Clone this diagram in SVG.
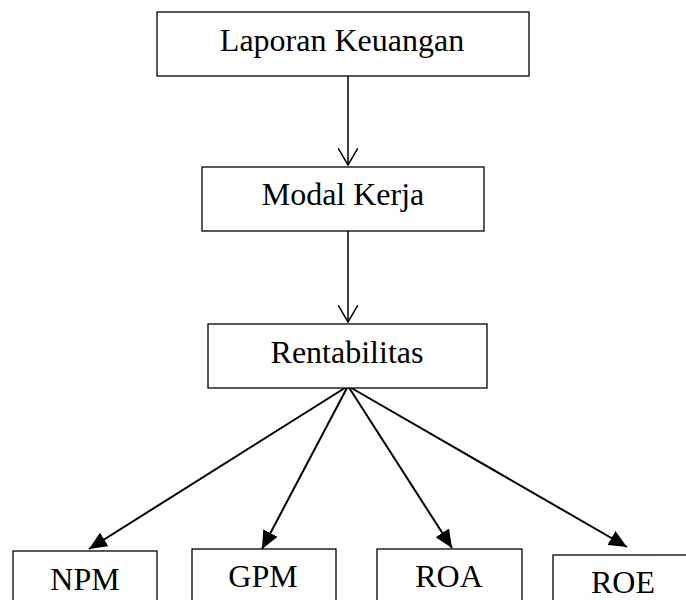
<svg xmlns="http://www.w3.org/2000/svg" width="686" height="600" viewBox="0 0 686 600">
<style>
.box{fill:#fff;stroke:#000;stroke-width:1.3}
.t{font-family:"Liberation Serif","Times New Roman",serif;font-size:32px;fill:#000;text-anchor:middle}
.c{stroke:#000;stroke-width:2;fill:none}
.c1{stroke:#000;stroke-width:1.5;fill:none}
</style>
<defs>
<marker id="open" viewBox="0 0 20 20" refX="17" refY="10" markerWidth="20" markerHeight="20" markerUnits="userSpaceOnUse" orient="auto">
<path d="M0,0 L17,10 L0,20" fill="none" stroke="#000" stroke-width="1.5"/>
</marker>
<marker id="fill" viewBox="0 0 18 16" refX="18" refY="8" markerWidth="18" markerHeight="16" markerUnits="userSpaceOnUse" orient="auto">
<path d="M0,0 L18,8 L0,16 Z" fill="#000"/>
</marker>
</defs>
<g id="connectors">
<line class="c1" x1="348" y1="76" x2="348" y2="165" marker-end="url(#open)"/>
<line class="c1" x1="348" y1="231" x2="348" y2="322" marker-end="url(#open)"/>
<line class="c" x1="348" y1="386" x2="89" y2="549" marker-end="url(#fill)"/>
<line class="c" x1="348" y1="386" x2="262" y2="549" marker-end="url(#fill)"/>
<line class="c" x1="348" y1="386" x2="452" y2="548" marker-end="url(#fill)"/>
<line class="c" x1="348" y1="386" x2="627" y2="547" marker-end="url(#fill)"/>
</g>
<g id="laporan">
<rect class="box" x="157" y="12" width="372" height="64"/>
<text class="t" x="342" y="51">Laporan Keuangan</text>
</g>
<g id="modal">
<rect class="box" x="202" y="167" width="282" height="64"/>
<text class="t" x="343" y="205">Modal Kerja</text>
</g>
<g id="rentabilitas">
<rect class="box" x="208" y="324" width="279" height="64"/>
<text class="t" x="347" y="363">Rentabilitas</text>
</g>
<g id="npm">
<rect class="box" x="13" y="551" width="144" height="60"/>
<text class="t" x="85" y="590">NPM</text>
</g>
<g id="gpm">
<rect class="box" x="192" y="549" width="144" height="60"/>
<text class="t" x="263" y="587">GPM</text>
</g>
<g id="roa">
<rect class="box" x="377" y="549" width="145" height="60"/>
<text class="t" x="449" y="587">ROA</text>
</g>
<g id="roe">
<rect class="box" x="553" y="555" width="140" height="60"/>
<text class="t" x="623" y="593">ROE</text>
</g>
</svg>
